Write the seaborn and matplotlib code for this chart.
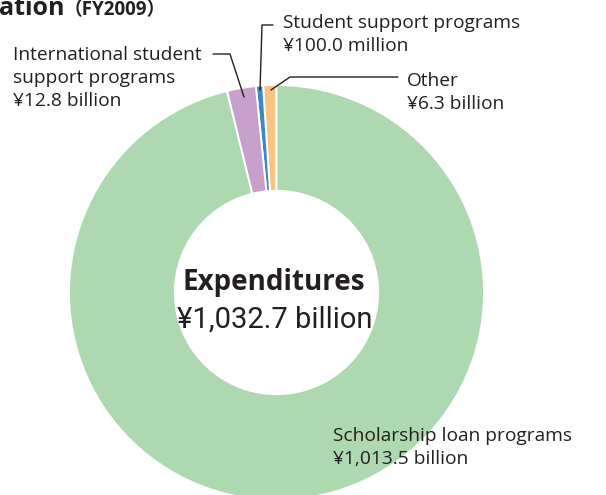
import numpy as np
import matplotlib.pyplot as plt
import matplotlib.font_manager as fm
import seaborn as sns

# Datos (en el orden en que se dibujan, desde las 12 en sentido antihorario)
categories = ["Other", "Student support programs",
              "International student support programs", "Scholarship loan programs"]
amount_labels = ["¥6.3 billion", "¥100.0 million", "¥12.8 billion", "¥1,013.5 billion"]
# proporciones tal como aparecen dibujadas en la figura (%)
drawn_share = [1.03, 0.56, 2.25, 96.16]
colors = ["#F9C384", "#3D87C9", "#C7A0CB", "#AED8AF"]
total_label = "¥1,032.7 billion"

sns.set_theme(style="white")
names = {f.name for f in fm.fontManager.ttflist}
main_font = "Open Sans" if "Open Sans" in names else "DejaVu Sans"
narrow_font = "Roboto" if "Roboto" in names else main_font
plt.rcParams['font.family'] = [main_font, 'Noto Sans CJK JP', 'DejaVu Sans']
txt = "#231F20"

W, H = 606, 495
fig = plt.figure(figsize=(W / 100, H / 100), dpi=100)
ax = fig.add_axes([0, 0, 1, 1])

def Y(y):
    # convierte la coordenada y en píxeles (desde arriba) a la del eje
    return H - y

cx, cy, R = 276.5, 292.5, 207.5
ax.pie(drawn_share, colors=colors, startangle=90, counterclock=True,
       center=(cx, Y(cy)), radius=R,
       wedgeprops=dict(width=R * 0.51, edgecolor="white", linewidth=1.4))
ax.set_xlim(0, W)
ax.set_ylim(0, H)
ax.set_aspect("equal")
ax.axis("off")

# Título (recortado en la parte superior, como en el original)
ax.text(-1, Y(15), "ation", fontsize=18, fontweight="bold", color=txt,
        ha="left", va="baseline")
ax.text(64, Y(15), "（FY2009）", fontsize=13.5, fontweight="bold", color=txt,
        ha="left", va="baseline",
        family=[main_font, "Noto Sans CJK JP", "DejaVu Sans"])

# Texto central
ax.text(274, Y(290), "Expenditures", fontsize=20, fontweight="bold", color=txt,
        ha="center", va="baseline")
ax.text(275, Y(328), total_label, fontsize=21, color=txt,
        ha="center", va="baseline", family=[narrow_font, "DejaVu Sans"])

fs = 13.8
lh = 23
# International student support programs
ax.text(13, Y(60), "International student", fontsize=fs, color=txt, va="baseline")
ax.text(13, Y(60 + lh), "support programs", fontsize=fs, color=txt, va="baseline")
ax.text(13, Y(60 + 2 * lh), amount_labels[2], fontsize=fs, color=txt, va="baseline")
ax.plot([213, 230, 244], [Y(54), Y(54), Y(97)], color=txt, lw=1)

# Student support programs
ax.text(283, Y(28), categories[1], fontsize=fs, color=txt, va="baseline")
ax.text(283, Y(28 + lh), amount_labels[1], fontsize=fs, color=txt, va="baseline")
ax.plot([273, 262, 260], [Y(25), Y(25), Y(90)], color=txt, lw=1)

# Other
ax.text(407, Y(86), categories[0], fontsize=fs, color=txt, va="baseline")
ax.text(407, Y(86 + lh), amount_labels[0], fontsize=fs, color=txt, va="baseline")
ax.plot([398, 290, 271], [Y(77), Y(77), Y(90)], color=txt, lw=1)

# Scholarship loan programs
ax.text(333, Y(441), categories[3], fontsize=fs, color=txt, va="baseline")
ax.text(333, Y(441 + lh), amount_labels[3], fontsize=fs, color=txt, va="baseline")

fig.savefig("out.png", dpi=100)
